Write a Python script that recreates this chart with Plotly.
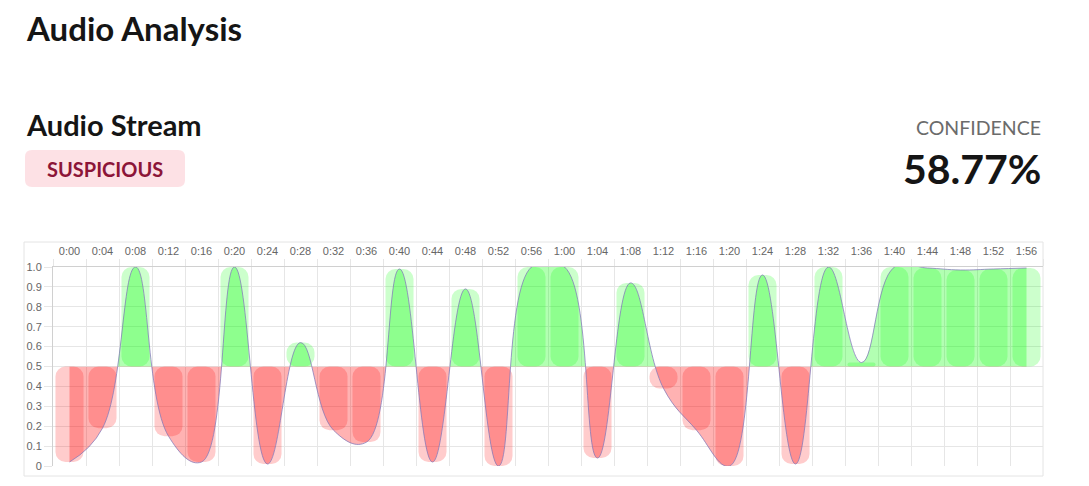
import plotly.graph_objects as go

# 4-second windows of the audio stream
times = ["0:00", "0:04", "0:08", "0:12", "0:16", "0:20", "0:24", "0:28", "0:32", "0:36",
         "0:40", "0:44", "0:48", "0:52", "0:56", "1:00", "1:04", "1:08", "1:12", "1:16",
         "1:20", "1:24", "1:28", "1:32", "1:36", "1:40", "1:44", "1:48", "1:52", "1:56"]
scores = [0.02, 0.19, 1.0, 0.15, 0.02, 1.0, 0.01, 0.62, 0.18, 0.12,
          0.99, 0.02, 0.89, 0.0, 1.0, 1.0, 0.04, 0.92, 0.39, 0.18,
          0.0, 0.96, 0.01, 1.0, 0.52, 1.0, 0.995, 0.985, 0.99, 0.995]
threshold = 0.5

y_ticks = [0, 0.1, 0.2, 0.3, 0.4, 0.5, 0.6, 0.7, 0.8, 0.9, 1.0]
y_tick_labels = ["0", "0.1", "0.2", "0.3", "0.4", "0.5", "0.6", "0.7", "0.8", "0.9", "1.0"]

page_title = "Audio Analysis"
stream_name = "Audio Stream"
verdict = "SUSPICIOUS"
confidence_label = "CONFIDENCE"
confidence = "58.77%"

# page / plot area in pixels
W, H = 1089, 486
L, R, T, B = 53, 1043, 267, 466


def px(x):
    return (x - L) / (R - L)


def py(y):
    return (B - y) / (B - T)


def rounded_rect(x0, y0, x1, y1, r):
    pts = [
        ("M", [(x0 + r, y0)]),
        ("L", [(x1 - r, y0)]), ("Q", [(x1, y0), (x1, y0 + r)]),
        ("L", [(x1, y1 - r)]), ("Q", [(x1, y1), (x1 - r, y1)]),
        ("L", [(x0 + r, y1)]), ("Q", [(x0, y1), (x0, y1 - r)]),
        ("L", [(x0, y0 + r)]), ("Q", [(x0, y0), (x0 + r, y0)]),
    ]
    out = ""
    for cmd, coords in pts:
        out += cmd + " " + " ".join(f"{px(a):.5f},{py(b):.5f}" for a, b in coords) + " "
    return out + "Z"


GREEN_BAR = "rgba(0,255,0,0.2)"
RED_BAR = "rgba(255,0,0,0.2)"
GREEN_FILL = "rgba(0,255,0,0.3)"
RED_FILL = "rgba(255,0,0,0.3)"
LINE = "rgba(130,120,185,0.75)"
GRID = "#e6e6e6"
TICK_FONT = dict(family="Liberation Sans, Arial, sans-serif", size=11, color="#666666")
HEAD_FONT = "Lato, Noto Sans, sans-serif"

bar_colors = [GREEN_BAR if s >= threshold else RED_BAR for s in scores]

fig = go.Figure()

fig.add_trace(go.Bar(
    x=times, y=[s - threshold for s in scores], base=threshold,
    marker=dict(color=bar_colors, cornerradius=10, line=dict(width=0)),
    width=0.85, hoverinfo="skip", showlegend=False,
))

# upper half: green fill between curve and threshold (clipped to the half)
fig.add_trace(go.Scatter(
    x=times, y=scores, xaxis="x2", yaxis="y2", mode="lines",
    line=dict(shape="spline", smoothing=1.2, color=LINE, width=1, simplify=False),
    fill="tozeroy", fillcolor=GREEN_FILL, showlegend=False,
))

# lower half: red fill between threshold and curve
fig.add_trace(go.Scatter(
    x=times, y=[threshold] * len(times), xaxis="x2", yaxis="y3", mode="lines",
    line=dict(width=0), hoverinfo="skip", showlegend=False,
))
fig.add_trace(go.Scatter(
    x=times, y=scores, xaxis="x2", yaxis="y3", mode="lines",
    line=dict(shape="spline", smoothing=1.2, color=LINE, width=1, simplify=False),
    fill="tonexty", fillcolor=RED_FILL, showlegend=False,
))

n = len(times)
fig.update_layout(
    width=W, height=H,
    margin=dict(l=L, r=W - R, t=T, b=H - B),
    paper_bgcolor="white", plot_bgcolor="rgba(0,0,0,0)",
    showlegend=False,
    bargap=0.15,
    xaxis=dict(
        type="category", categoryorder="array", categoryarray=times,
        range=[-0.5, n - 0.5], side="top", anchor="y",
        tickson="boundaries", ticks="outside", ticklen=7, tickcolor=GRID,
        ticklabelstandoff=7,
        showgrid=True, gridcolor=GRID, gridwidth=1,
        showline=True, linecolor="#d0d0d0", mirror=False,
        tickfont=TICK_FONT, fixedrange=True,
    ),
    yaxis=dict(
        range=[0, 1], tickvals=y_ticks, ticktext=y_tick_labels,
        ticks="outside", ticklen=8, tickcolor=GRID,
        showgrid=True, gridcolor=GRID, zeroline=False,
        showline=True, linecolor="#d0d0d0",
        tickfont=TICK_FONT, fixedrange=True,
    ),
    xaxis2=dict(
        type="category", categoryorder="array", categoryarray=times,
        range=[-0.5, n - 0.5], domain=[0, 1], anchor="y2", visible=False,
        showgrid=False, fixedrange=True,
    ),
    yaxis2=dict(domain=[0.5, 1], range=[threshold, 1], anchor="x2",
                visible=False, showgrid=False, fixedrange=True),
    yaxis3=dict(domain=[0, 0.5], range=[0, threshold], anchor="x2",
                visible=False, showgrid=False, fixedrange=True),
)

# card border around the chart
fig.add_shape(type="rect", xref="paper", yref="paper",
              x0=px(24), x1=px(1043), y0=py(476), y1=py(242),
              line=dict(color="#e4e4e4", width=1), layer="below")

# verdict badge
fig.add_shape(type="path", xref="paper", yref="paper",
              path=rounded_rect(25, 150, 185, 187, 7),
              fillcolor="#fde1e5", line=dict(width=0), layer="below")

annos = [
    dict(text=f"<b>{page_title}</b>", x=px(24), y=py(28), xanchor="left",
         font=dict(family=HEAD_FONT, size=33, color="#151515")),
    dict(text=f"<b>{stream_name}</b>", x=px(24), y=py(124), xanchor="left",
         font=dict(family=HEAD_FONT, size=29, color="#151515")),
    dict(text=f"<b>{verdict}</b>", x=px(105), y=py(169), xanchor="center",
         font=dict(family=HEAD_FONT, size=20, color="#8c1538")),
    dict(text=confidence_label, x=px(1043), y=py(127), xanchor="right",
         font=dict(family=HEAD_FONT, size=19.5, color="#6b6b6b")),
    dict(text=f"<b>{confidence}</b>", x=px(1043), y=py(168), xanchor="right",
         font=dict(family=HEAD_FONT, size=41, color="#151515")),
]
for a in annos:
    fig.add_annotation(xref="paper", yref="paper", yanchor="middle",
                       showarrow=False, **a)

fig.write_html("out.html", config={"displayModeBar": False},
               post_script="document.body.style.margin='0';")
